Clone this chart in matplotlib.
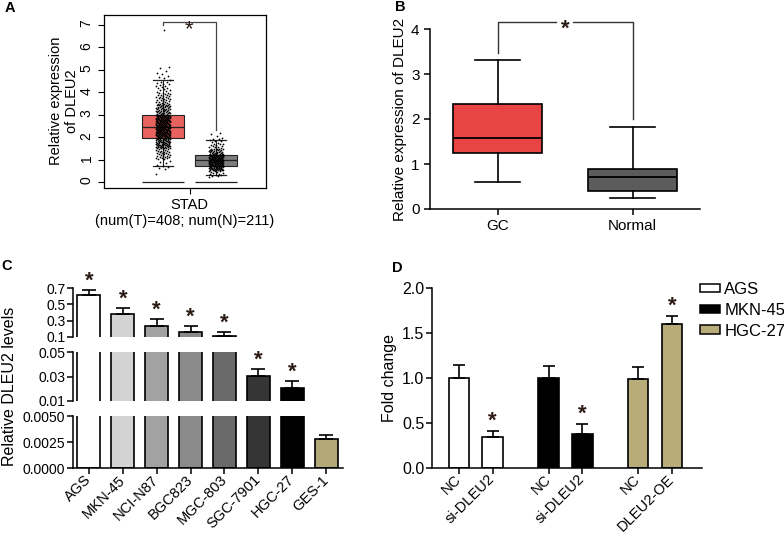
import numpy as np
import matplotlib
matplotlib.use("Agg")
import matplotlib.pyplot as plt
from matplotlib.patches import Patch
from matplotlib.transforms import ScaledTranslation

plt.rcParams['font.family'] = ['Liberation Sans', 'DejaVu Sans']

# ---------------- data ----------------
# Panel A (GEPIA, STAD)
a_groups = ["Tumor", "Normal"]
a_q1 = [1.96, 0.71]
a_med = [2.45, 0.97]
a_q3 = [2.99, 1.20]
a_whislo = [0.71, 0.30]
a_whishi = [4.55, 1.87]
a_floor = [0.0, 0.0]
a_colors = ["#e8625f", "#7d7d7d"]
# estimated point-density read from the jitter clouds (bin low, bin high, count)
a_tumor_bin_lo = [0.30, 0.50, 1.00, 1.50, 2.00, 2.50, 3.00, 3.50, 4.00, 4.50, 5.00, 6.75]
a_tumor_bin_hi = [0.40, 1.00, 1.50, 2.00, 2.50, 3.00, 3.50, 4.00, 4.50, 5.00, 5.20, 6.85]
a_tumor_bin_n = [1, 8, 30, 70, 100, 95, 50, 28, 16, 7, 2, 1]
a_normal_bin_lo = [0.22, 0.50, 0.75, 1.00, 1.25, 1.50, 1.75, 2.00]
a_normal_bin_hi = [0.50, 0.75, 1.00, 1.25, 1.50, 1.75, 2.00, 2.25]
a_normal_bin_n = [12, 45, 55, 52, 25, 12, 7, 3]

# Panel B
b_groups = ["GC", "Normal"]
b_q1 = [1.25, 0.40]
b_med = [1.58, 0.72]
b_q3 = [2.33, 0.90]
b_whislo = [0.60, 0.24]
b_whishi = [3.31, 1.83]
b_colors = ["#e84444", "#5c5c5c"]

# Panel C
c_cells = ["AGS", "MKN-45", "NCI-N87", "BGC823", "MGC-803", "SGC-7901", "HGC-27", "GES-1"]
c_values = [0.61, 0.377, 0.229, 0.157, 0.116, 0.0306, 0.0207, 0.0028]
c_errors = [0.06, 0.081, 0.096, 0.072, 0.048, 0.0058, 0.0055, 0.0004]
c_sig = [True, True, True, True, True, True, True, False]
c_colors = ["#ffffff", "#d3d3d3", "#a2a2a2", "#8a8a8a", "#6a6a6a", "#353535", "#000000", "#b3a878"]
c_segments = [(0.1, 0.7), (0.01, 0.05), (0.0, 0.005)]
c_ticks = [[0.1, 0.3, 0.5, 0.7], [0.01, 0.03, 0.05], [0.0, 0.0025, 0.005]]
c_ticklabels = [["0.1", "0.3", "0.5", "0.7"], ["0.01", "0.03", "0.05"], ["0.0000", "0.0025", "0.0050"]]

# Panel D
d_labels = ["NC", "si-DLEU2", "NC", "si-DLEU2", "NC", "DLEU2-OE"]
d_cells = ["AGS", "AGS", "MKN-45", "MKN-45", "HGC-27", "HGC-27"]
d_values = [1.0, 0.348, 1.0, 0.378, 0.99, 1.604]
d_errors = [0.14, 0.067, 0.137, 0.107, 0.13, 0.089]
d_sig = [False, True, False, True, False, True]
d_legend = ["AGS", "MKN-45", "HGC-27"]
d_colors = {"AGS": "#ffffff", "MKN-45": "#000000", "HGC-27": "#b8ac7a"}

# ---------------- layout helpers ----------------
W, H = 784, 536
fig = plt.figure(figsize=(W / 100, H / 100), dpi=100)
STAR = "#2d1b15"


def rect(l, t, r, b):
    return [l / W, 1 - b / H, (r - l) / W, (b - t) / H]


def star(ax, x, y, dy_px, fs, weight="bold"):
    em = fs * 100 / 72
    off = ScaledTranslation(0, (dy_px - 0.57 * em) / 100, fig.dpi_scale_trans)
    ax.text(x, y, "*", ha="center", va="baseline", fontsize=fs, fontweight=weight,
            color=STAR, transform=ax.transData + off, clip_on=False, zorder=6)


def spread(lo, hi, n):
    vals = []
    for a, b, k in zip(lo, hi, n):
        vals.extend(np.linspace(a, b, k + 2)[1:-1])
    return np.array(vals)


def jitter(n, width):
    k = np.arange(n)
    return ((k * 0.6180339887) % 1.0 - 0.5) * 2 * width


# ---------------- Panel A ----------------
axA = fig.add_axes(rect(104, 15, 266, 188))
posA = [1, 2]
statsA = [dict(med=m, q1=q1, q3=q3, whislo=lo, whishi=hi, fliers=[])
          for m, q1, q3, lo, hi in zip(a_med, a_q1, a_q3, a_whislo, a_whishi)]
bpA = axA.bxp(statsA, positions=posA, widths=0.8, capwidths=0.36, patch_artist=True,
              showfliers=False,
              boxprops=dict(linewidth=0.8, edgecolor="#222222"),
              medianprops=dict(color="#222222", linewidth=0.9),
              whiskerprops=dict(color="#222222", linewidth=0.8),
              capprops=dict(color="#222222", linewidth=0.9))
for p, c in zip(bpA["boxes"], a_colors):
    p.set_facecolor(c)
axA.hlines(a_floor, [p - 0.4 for p in posA], [p + 0.4 for p in posA], color="#222222", lw=0.9)
yT = spread(a_tumor_bin_lo, a_tumor_bin_hi, a_tumor_bin_n)
yN = spread(a_normal_bin_lo, a_normal_bin_hi, a_normal_bin_n)
axA.scatter(posA[0] + jitter(len(yT), 0.14), yT, s=1.6, c="black", linewidths=0, zorder=4)
axA.scatter(posA[1] + jitter(len(yN), 0.14), yN, s=1.6, c="black", linewidths=0, zorder=4)
axA.set_xlim(-0.113, 2.943)
axA.set_ylim(-0.27, 7.45)
axA.set_yticks(range(8))
axA.tick_params(axis="y", labelrotation=90, labelsize=10, length=4, width=0.8)
axA.set_xticks([1.5], ["STAD"])
axA.tick_params(axis="x", labelsize=10.5, length=4, width=0.8)
axA.set_xlabel("(num(T)=408; num(N)=211)", fontsize=10.5, labelpad=1)
for s in axA.spines.values():
    s.set_linewidth(0.9)
axA.plot([1, 1, 2, 2], [7.0, 7.13, 7.13, 2.32], color="#444444", lw=0.9, clip_on=False)
star(axA, 1.5, 7.13, 0, 16, weight="normal")
fig.text(64 / W, 1 - 101 / H, "Relative expression\nof DLEU2", rotation=90, ha="center",
         va="center", fontsize=10.5, linespacing=1.25, multialignment="center")

# ---------------- Panel B ----------------
axB = fig.add_axes(rect(430, 29, 700, 209))
statsB = [dict(med=m, q1=q1, q3=q3, whislo=lo, whishi=hi, fliers=[])
          for m, q1, q3, lo, hi in zip(b_med, b_q1, b_q3, b_whislo, b_whishi)]
bpB = axB.bxp(statsB, positions=[0, 1], widths=0.66, capwidths=0.33, patch_artist=True,
              showfliers=False,
              boxprops=dict(linewidth=1.2, edgecolor="black"),
              medianprops=dict(color="black", linewidth=1.3),
              whiskerprops=dict(color="black", linewidth=1.2),
              capprops=dict(color="black", linewidth=1.2))
for p, c in zip(bpB["boxes"], b_colors):
    p.set_facecolor(c)
axB.set_xlim(-0.5, 1.5)
axB.set_ylim(0, 4)
axB.set_yticks([0, 1, 2, 3, 4])
axB.set_xticks([0, 1], b_groups)
axB.spines[["top", "right"]].set_visible(False)
for s in axB.spines.values():
    s.set_linewidth(1.1)
axB.tick_params(labelsize=11, length=4, width=1.1)
axB.set_ylabel("Relative expression of DLEU2", fontsize=11, labelpad=3)
axB.plot([0, 0, 0.437], [3.47, 4.16, 4.16], color="#333333", lw=1, clip_on=False)
axB.plot([0.556, 1, 1], [4.16, 4.16, 2.0], color="#333333", lw=1, clip_on=False)
star(axB, 0.5, 4.16, 0, 16)

# ---------------- Panel C ----------------
c_rects = [(73, 288, 343, 337), (73, 352, 343, 401), (73, 416, 343, 468)]
xC = np.arange(len(c_cells))
c_axes = []
for i, (seg, r) in enumerate(zip(c_segments, c_rects)):
    ax = fig.add_axes(rect(*r))
    c_axes.append(ax)
    ax.bar(xC, c_values, width=0.68, color=c_colors, edgecolor="black", linewidth=1.2)
    ax.set_xlim(-0.47, 7.5)
    ax.set_ylim(*seg)
    ax.set_yticks(c_ticks[i], c_ticklabels[i])
    ax.spines[["top", "right"]].set_visible(False)
    for s in ax.spines.values():
        s.set_linewidth(1.1)
    ax.tick_params(axis="y", labelsize=10, length=4, width=1.1, pad=1.5)
    if i < 2:
        ax.spines["bottom"].set_visible(False)
        ax.set_xticks([])
    else:
        ax.set_xticks(xC, c_cells, rotation=45, ha="right", va="center",
                      rotation_mode="anchor")
        ax.tick_params(axis="x", labelsize=10.5, length=4, width=1.1, pad=3)


def c_seg_of(v):
    for i, (lo, hi) in enumerate(c_segments):
        if lo <= v <= hi:
            return i
    return 0


for x, v, e, sig in zip(xC, c_values, c_errors, c_sig):
    ax = c_axes[c_seg_of(v)]
    ax.errorbar([x], [v], yerr=[[0], [e]], fmt="none", ecolor="black", elinewidth=1.2,
                capsize=5, capthick=1.2, clip_on=False)
    if sig:
        star(c_axes[c_seg_of(v + e)], x, v + e, 16, 16)
fig.text(10 / W, 1 - 386 / H, "Relative DLEU2 levels", rotation=90, ha="center",
         va="center", fontsize=11.5)

# ---------------- Panel D ----------------
axD = fig.add_axes(rect(432, 288, 702, 468))
xD = np.array([g * 2.65 + k for g in range(3) for k in range(2)])
colD = [d_colors[c] for c in d_cells]
axD.bar(xD, d_values, width=0.6, color=colD, edgecolor="black", linewidth=1.2)
axD.errorbar(xD, d_values, yerr=[np.zeros(len(d_errors)), d_errors], fmt="none",
             ecolor="black", elinewidth=1.2, capsize=4.5, capthick=1.2)
for x, v, e, sig in zip(xD, d_values, d_errors, d_sig):
    if sig:
        star(axD, x, v + e, 17, 16)
axD.set_xlim(-0.79, 7.18)
axD.set_ylim(0, 2)
axD.set_yticks([0, 0.5, 1.0, 1.5, 2.0], ["0.0", "0.5", "1.0", "1.5", "2.0"])
axD.set_xticks(xD, d_labels, rotation=45, ha="right", va="center", rotation_mode="anchor")
axD.spines[["top", "right"]].set_visible(False)
for s in axD.spines.values():
    s.set_linewidth(1.1)
axD.tick_params(axis="y", labelsize=11.5, length=4, width=1.1, pad=1.5)
axD.tick_params(axis="x", labelsize=10.5, length=4, width=1.1, pad=2.5)
axD.set_ylabel("Fold change", fontsize=11.5, labelpad=4)
handles = [Patch(facecolor=d_colors[c], edgecolor="black", linewidth=1.1) for c in d_legend]
axD.legend(handles, d_legend, loc="upper left", bbox_to_anchor=(700 / W, 1 - 282 / H),
           bbox_transform=fig.transFigure, frameon=False, fontsize=12, handlelength=1.2,
           handleheight=0.4, handletextpad=0.25, labelspacing=0.35, borderaxespad=0,
           borderpad=0)

# ---------------- panel letters ----------------
for letter, (x, y) in zip("ABCD", [(10, 8), (400, 7), (7, 266), (397, 268)]):
    fig.text(x / W, 1 - y / H, letter, ha="center", va="center", fontsize=10.5,
             fontweight="bold")

fig.savefig("out.png", dpi=100)
